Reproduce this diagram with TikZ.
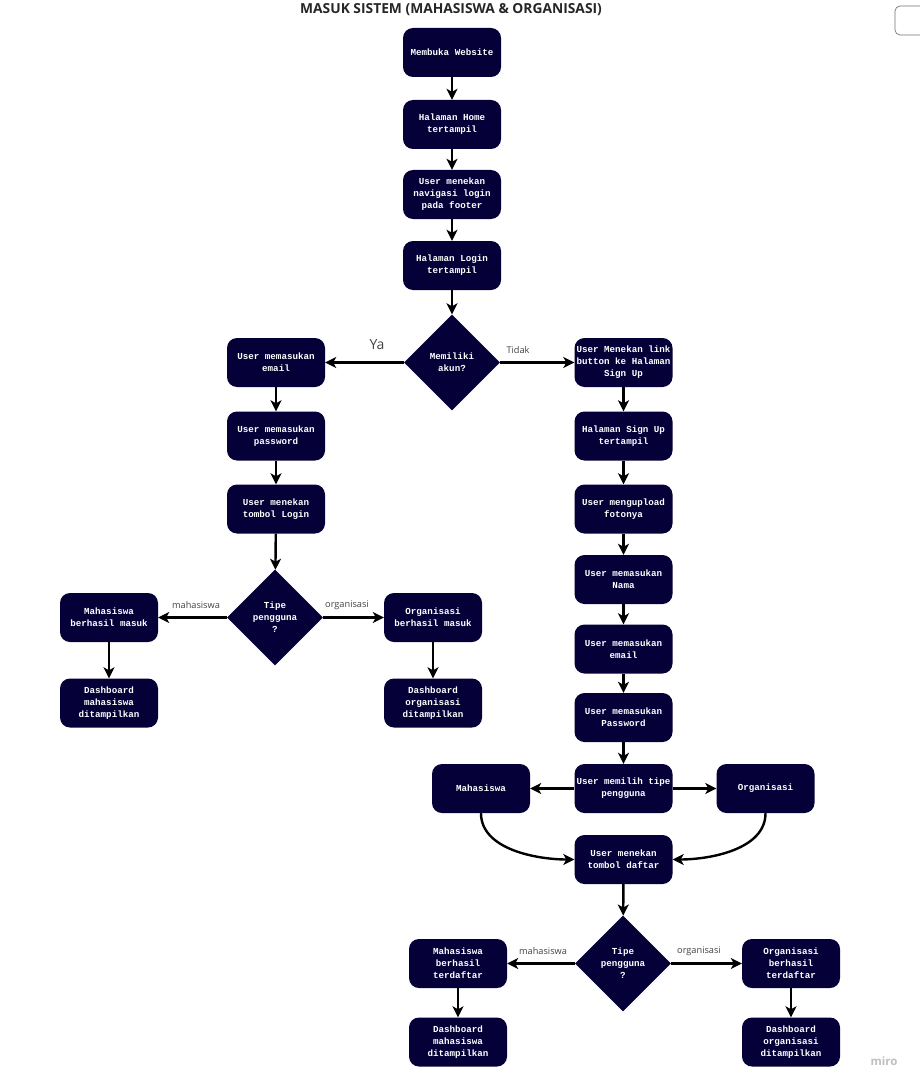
\documentclass[tikz,border=0pt]{standalone}
\usepackage{fontspec}
\setmainfont{Open Sans}
\newfontfamily\boxfont{Liberation Mono}
\usetikzlibrary{shapes.geometric,arrows.meta}
\definecolor{boxfill}{HTML}{050038}
\definecolor{labelgrey}{HTML}{444444}
\tikzset{
  x=1pt,y=-1pt,
  flowbox/.style={draw=none,fill=boxfill,rounded corners=10pt,minimum width=98pt,minimum height=49pt,inner sep=0pt,text=white,align=center,font=\boxfont\bfseries\fontsize{9.2}{12}\selectfont},
  choice/.style={draw=none,fill=boxfill,shape=diamond,aspect=1,minimum width=96pt,minimum height=96pt,inner sep=0pt,text=white,align=center,font=\boxfont\bfseries\fontsize{9.2}{12}\selectfont},
  link/.style={draw=black,line width=2.4pt,-{Stealth[length=11pt,width=11pt,inset=3pt]}},
  edgetext/.style={text=labelgrey,inner sep=0pt,font=\fontsize{9.2}{11}\selectfont},
}
\begin{document}
\begin{tikzpicture}
\useasboundingbox (0,0) rectangle (920,1086);
\fill[white] (0,0) rectangle (920,1086);
\node[font=\bfseries\fontsize{13.8}{16}\selectfont,text=black!85,inner sep=0pt] (title) at (451,10) {MASUK SISTEM (MAHASISWA \& ORGANISASI)};
\node[draw=black!55,line width=0.7pt,rounded corners=5pt,minimum width=50pt,minimum height=29pt,inner sep=0pt] (corner) at (920,20.5) {};
\node[text=black!25,inner sep=0pt,font=\bfseries\fontsize{11.5}{13}\selectfont] (miro) at (884,1061) {miro};

\node[flowbox] (a1) at (452,52.5) {Membuka Website};
\node[flowbox] (a2) at (452,124.5) {Halaman Home\\tertampil};
\node[flowbox] (a3) at (452,194.5) {User menekan\\navigasi login\\pada footer};
\node[flowbox] (a4) at (452,265.5) {Halaman Login\\tertampil};
\node[choice] (d1) at (452,362.5) {Memiliki\\akun?};

\node[flowbox] (l1) at (276,362.5) {User memasukan\\email};
\node[flowbox] (l2) at (276,436) {User memasukan\\password};
\node[flowbox] (l3) at (276,509) {User menekan\\tombol Login};
\node[choice] (d2) at (275,617.5) {Tipe\\pengguna\\?};
\node[flowbox] (m1) at (109,617.5) {Mahasiswa\\berhasil masuk};
\node[flowbox] (m2) at (109,703) {Dashboard\\mahasiswa\\ditampilkan};
\node[flowbox] (o1) at (433,617.5) {Organisasi\\berhasil masuk};
\node[flowbox] (o2) at (433,703) {Dashboard\\organisasi\\ditampilkan};

\node[flowbox] (r1) at (623.5,362.5) {User Menekan link\\button ke Halaman\\Sign Up};
\node[flowbox] (r2) at (623.5,436) {Halaman Sign Up\\tertampil};
\node[flowbox] (r3) at (623.5,509) {User mengupload\\fotonya};
\node[flowbox] (r4) at (623.5,579.5) {User memasukan\\Nama};
\node[flowbox] (r5) at (623.5,649) {User memasukan\\email};
\node[flowbox] (r6) at (623.5,717.5) {User memasukan\\Password};
\node[flowbox] (r7) at (623.5,788.5) {User memilih tipe\\pengguna};
\node[flowbox] (t1) at (481,788.5) {Mahasiswa};
\node[flowbox] (t2) at (765.5,788.5) {Organisasi};
\node[flowbox] (r8) at (623.5,859.5) {User menekan\\tombol daftar};
\node[choice] (d3) at (623,963.5) {Tipe\\pengguna\\?};
\node[flowbox] (n1) at (458,963.5) {Mahasiswa\\berhasil\\terdaftar};
\node[flowbox] (n2) at (458,1042) {Dashboard\\mahasiswa\\ditampilkan};
\node[flowbox] (p1) at (791,963.5) {Organisasi\\berhasil\\terdaftar};
\node[flowbox] (p2) at (791,1042) {Dashboard\\organisasi\\ditampilkan};

\draw[link] (a1) -- (a2);
\draw[link] (a2) -- (a3);
\draw[link] (a3) -- (a4);
\draw[link] (a4) -- (d1);
\draw[link] (d1) -- (l1);
\draw[link] (d1) -- (r1);
\draw[link] (l1) -- (l2);
\draw[link] (l2) -- (l3);
\draw[link] (l3) -- (d2);
\draw[link] (d2) -- (m1);
\draw[link] (d2) -- (o1);
\draw[link] (m1) -- (m2);
\draw[link] (o1) -- (o2);
\draw[link] (r1) -- (r2);
\draw[link] (r2) -- (r3);
\draw[link] (r3) -- (r4);
\draw[link] (r4) -- (r5);
\draw[link] (r5) -- (r6);
\draw[link] (r6) -- (r7);
\draw[link] (r7) -- (t1);
\draw[link] (r7) -- (t2);
\draw[link] (t1.south) to[out=-90,in=180,looseness=0.9] (r8.west);
\draw[link] (t2.south) to[out=-90,in=0,looseness=0.9] (r8.east);
\draw[link] (r8) -- (d3);
\draw[link] (d3) -- (n1);
\draw[link] (d3) -- (p1);
\draw[link] (n1) -- (n2);
\draw[link] (p1) -- (p2);

\node[edgetext,font=\fontsize{14}{16}\selectfont] (ya) at (377,344.5) {Ya};
\node[edgetext] (tidak) at (518,350) {Tidak};
\node[edgetext] (lm) at (196,605) {mahasiswa};
\node[edgetext] (lo) at (347,605) {organisasi};
\node[edgetext] (lm2) at (543,951) {mahasiswa};
\node[edgetext] (lo2) at (699,951) {organisasi};
\end{tikzpicture}
\end{document}
